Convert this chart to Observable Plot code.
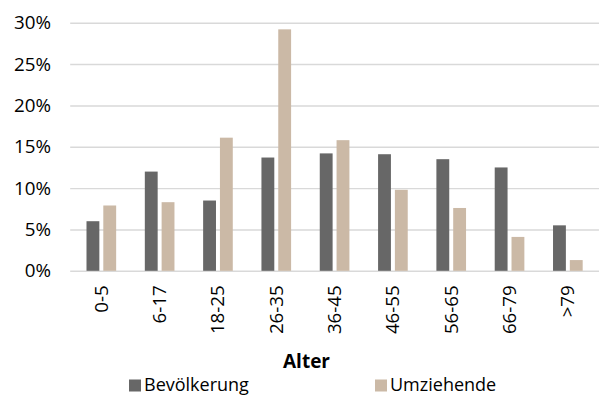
<!DOCTYPE html>
<html>
<head>
<meta charset="utf-8">
<script src="https://cdn.jsdelivr.net/npm/d3@7"></script>
<script src="https://cdn.jsdelivr.net/npm/@observablehq/plot@0.6"></script>
<style>
  html, body { margin: 0; padding: 0; overflow: hidden; background: #fff; }
  #wrap { position: relative; width: 599px; height: 395px; overflow: hidden; font-family: "Open Sans", sans-serif; }
  #chart { position: absolute; left: 0; top: 0; }
  #below { position: absolute; left: 0; top: 345px; }
</style>
</head>
<body>
<div id="wrap"><div id="chart"></div><svg id="below" width="599" height="50"></svg></div>
<script>
const categories = ["0-5", "6-17", "18-25", "26-35", "36-45", "46-55", "56-65", "66-79", ">79"];
const bevoelkerung = [6.0, 12.0, 8.5, 13.7, 14.2, 14.1, 13.5, 12.5, 5.5];
const umziehende = [7.9, 8.3, 16.1, 29.2, 15.8, 9.8, 7.6, 4.1, 1.3];
const seriesNames = ["Bevölkerung", "Umziehende"];
const seriesColors = ["#676767", "#cbb9a6"];
const yTicks = [0, 5, 10, 15, 20, 25, 30];
const axisTitle = "Alter";

const rowsB = categories.map((c, i) => ({cat: c, value: bevoelkerung[i], series: seriesNames[0]}));
const rowsU = categories.map((c, i) => ({cat: c, value: umziehende[i], series: seriesNames[1]}));

const plot = Plot.plot({
  width: 606,
  height: 345,
  marginLeft: 71,
  marginRight: 0,
  marginTop: 23,
  marginBottom: 71,
  style: {fontFamily: "'Open Sans', sans-serif", fontSize: "19px", color: "#000", background: "transparent"},
  x: {domain: categories, padding: 0, label: null},
  y: {domain: [0, 30], label: null},
  color: {domain: seriesNames, range: seriesColors},
  marks: [
    Plot.ruleY(yTicks, {stroke: "#d9d9d9", strokeWidth: 1.5}),
    Plot.barY(rowsB, {x: "cat", y: "value", fill: "series", insetLeft: 14.5, insetRight: 31.5}),
    Plot.barY(rowsU, {x: "cat", y: "value", fill: "series", insetLeft: 31.5, insetRight: 14.5}),
    Plot.axisY({ticks: yTicks, tickFormat: d => d + "%", tickSize: 0, tickPadding: 20, label: null, fontSize: 19}),
    Plot.axisX({tickSize: 0, tickPadding: 14, tickRotate: -90, label: null, fontSize: 19})
  ]
});
document.getElementById("chart").appendChild(plot);

const below = d3.select("#below");
below.append("text")
  .attr("x", 306.5).attr("y", 23)
  .attr("text-anchor", "middle")
  .attr("font-family", "'Open Sans', sans-serif")
  .attr("font-weight", "bold")
  .attr("font-size", 19)
  .attr("fill", "#000")
  .text(axisTitle);

const legendX = [129, 375];
seriesNames.forEach((name, i) => {
  below.append("rect").attr("x", legendX[i]).attr("y", 34.5).attr("width", 12).attr("height", 12).attr("fill", seriesColors[i]);
  below.append("text")
    .attr("x", legendX[i] + 15).attr("y", 46)
    .attr("font-family", "'Open Sans', sans-serif")
    .attr("font-size", 18)
    .attr("fill", "#000")
    .text(name);
});
</script>
</body>
</html>
